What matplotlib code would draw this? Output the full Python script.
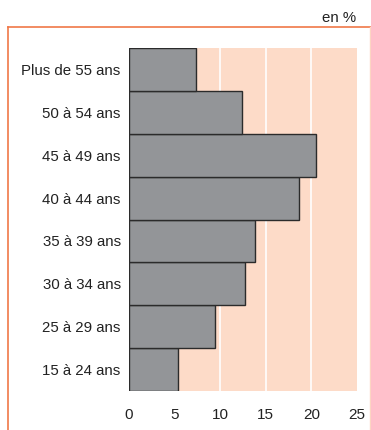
import matplotlib
matplotlib.use('Agg')
import matplotlib.pyplot as plt
from matplotlib.lines import Line2D

categories = ['15 à 24 ans', '25 à 29 ans', '30 à 34 ans', '35 à 39 ans',
              '40 à 44 ans', '45 à 49 ans', '50 à 54 ans', 'Plus de 55 ans']
values = [5.4, 9.4, 12.7, 13.8, 18.6, 20.5, 12.4, 7.3]
xticks = [0, 5, 10, 15, 20, 25]

plt.rcParams['font.family'] = ['Liberation Sans', 'DejaVu Sans']

fig = plt.figure(figsize=(3.71, 4.30), dpi=100)
ax = fig.add_axes([129 / 371, 39 / 430, 228 / 371, 343 / 430])

ax.set_facecolor('#fddbc8')
for x in xticks[1:-1]:
    ax.axvline(x, color='white', lw=1.2, zorder=1)

ax.barh(range(len(categories)), values, height=1.0, color='#939598',
        edgecolor='#2b2b2b', linewidth=1.0, zorder=2)

ax.set_xlim(0, 25)
ax.set_ylim(-0.5, len(categories) - 0.5)
ax.set_yticks(range(len(categories)))
ax.set_yticklabels(categories, fontsize=10.8, color='#222222')
ax.set_xticks(xticks)
ax.set_xticklabels([str(x) for x in xticks], fontsize=11, color='#222222')
ax.tick_params(length=0, pad=6)
ax.tick_params(axis='x', pad=12)
for s in ax.spines.values():
    s.set_visible(False)

# cadre orange
fig.add_artist(Line2D([8 / 371, 1], [1 - 27 / 430, 1 - 27 / 430],
                      transform=fig.transFigure, color='#f07848', lw=1.2))
fig.add_artist(Line2D([8 / 371, 8 / 371], [0, 1 - 27 / 430],
                      transform=fig.transFigure, color='#f07848', lw=1.2))
fig.add_artist(Line2D([369.5 / 371, 369.5 / 371], [0, 1 - 27 / 430],
                      transform=fig.transFigure, color='#fcd5c2', lw=1.0))

fig.text(356 / 371, 1 - 18 / 430, 'en %', ha='right', va='center',
         fontsize=10.8, color='#222222')

fig.savefig('out.png', dpi=100)
